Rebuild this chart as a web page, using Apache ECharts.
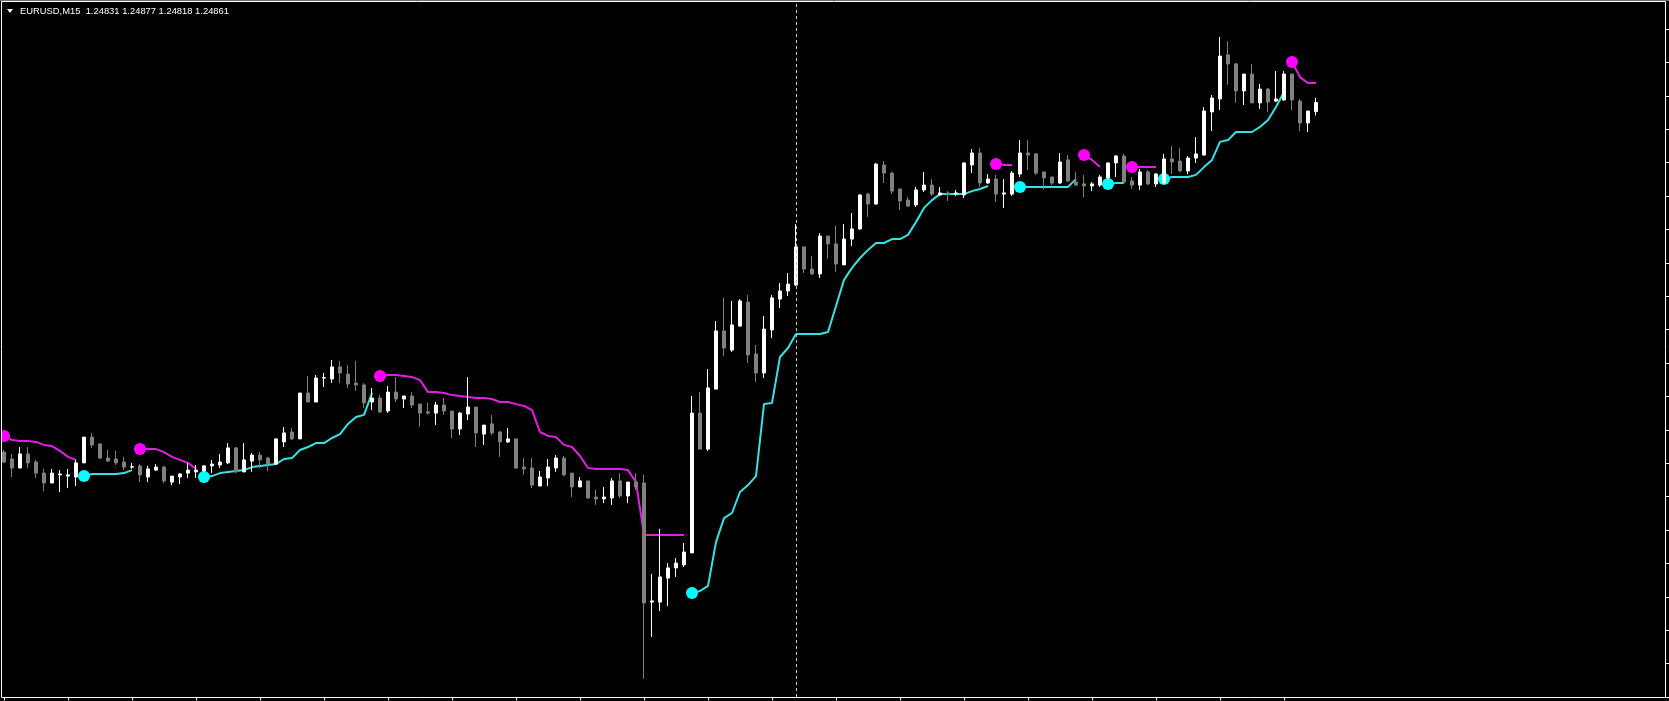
<!DOCTYPE html>
<html><head><meta charset="utf-8">
<script src="https://cdn.jsdelivr.net/npm/echarts@6/dist/echarts.min.js"></script>
<style>html,body{margin:0;padding:0;background:#000;overflow:hidden}#chart{width:1669px;height:701px;}</style>
</head><body><div id="chart"></div><script>
const symbolName = 'EURUSD,M15';
const slotCount = 208; // bars visible on screen incl. empty right shift
const categories = Array.from({length: slotCount}, (_, i) => String(i));

const barOpen = [1.23696,1.23673,1.23643,1.23690,1.23663,1.23626,1.23593,1.23620,1.23616,1.23613,
 1.23660,1.23746,1.23723,1.23676,1.23673,1.23663,1.23646,1.23650,1.23613,1.23636,
 1.23646,1.23596,1.23613,1.23626,1.23630,1.23633,1.23650,1.23653,1.23660,1.23710,
 1.23630,1.23666,1.23686,1.23676,1.23656,1.23730,1.23763,1.23740,1.23893,1.23863,
 1.23943,1.23940,1.23980,1.23956,1.23926,1.23920,1.23863,1.23876,1.23833,1.23896,
 1.23873,1.23883,1.23856,1.23830,1.23826,1.23853,1.23833,1.23773,1.23823,1.23846,
 1.23756,1.23790,1.23763,1.23730,1.23740,1.23646,1.23643,1.23583,1.23610,1.23643,
 1.23676,1.23626,1.23580,1.23600,1.23546,1.23540,1.23543,1.23600,1.23550,1.23596,
 1.23593,1.23196,1.23196,1.23276,1.23310,1.23320,1.23360,1.23826,1.23706,1.23906,
 1.24100,1.24036,1.24116,1.24196,1.24023,1.23960,1.24103,1.24206,1.24233,1.24253,
 1.24380,1.24306,1.24290,1.24416,1.24390,1.24320,1.24406,1.24440,1.24556,1.24523,
 1.24653,1.24626,1.24573,1.24536,1.24520,1.24570,1.24586,1.24553,1.24560,1.24556,
 1.24553,1.24653,1.24693,1.24593,1.24606,1.24556,1.24556,1.24623,1.24693,1.24690,
 1.24630,1.24613,1.24593,1.24670,1.24596,1.24590,1.24583,1.24586,1.24610,1.24660,
 1.24683,1.24600,1.24586,1.24630,1.24590,1.24593,1.24673,1.24666,1.24633,1.24676,
 1.24686,1.24830,1.24873,1.25020,1.24990,1.24900,1.24956,1.24860,1.24906,1.24866,
 1.24870,1.24956,1.24866,1.24793,1.24831];

const barClose = [1.23663,1.23643,1.23690,1.23660,1.23626,1.23593,1.23626,1.23623,1.23620,1.23660,
 1.23746,1.23720,1.23676,1.23666,1.23660,1.23646,1.23647,1.23620,1.23640,1.23646,
 1.23600,1.23616,1.23623,1.23636,1.23636,1.23650,1.23656,1.23663,1.23710,1.23630,
 1.23670,1.23686,1.23670,1.23656,1.23740,1.23760,1.23740,1.23893,1.23863,1.23943,
 1.23944,1.23980,1.23960,1.23923,1.23920,1.23860,1.23876,1.23830,1.23896,1.23873,
 1.23883,1.23853,1.23826,1.23826,1.23853,1.23833,1.23773,1.23826,1.23846,1.23760,
 1.23786,1.23760,1.23730,1.23740,1.23643,1.23640,1.23586,1.23613,1.23646,1.23676,
 1.23620,1.23580,1.23600,1.23543,1.23540,1.23546,1.23600,1.23550,1.23596,1.23580,
 1.23193,1.23200,1.23280,1.23310,1.23326,1.23363,1.23826,1.23706,1.23910,1.24100,
 1.24043,1.24120,1.24200,1.24020,1.23960,1.24106,1.24210,1.24233,1.24256,1.24380,
 1.24306,1.24290,1.24416,1.24390,1.24323,1.24406,1.24440,1.24553,1.24523,1.24656,
 1.24626,1.24566,1.24533,1.24516,1.24570,1.24586,1.24556,1.24560,1.24556,1.24560,
 1.24660,1.24693,1.24593,1.24606,1.24556,1.24560,1.24626,1.24693,1.24686,1.24626,
 1.24610,1.24593,1.24663,1.24600,1.24586,1.24583,1.24590,1.24613,1.24660,1.24683,
 1.24596,1.24586,1.24630,1.24590,1.24623,1.24673,1.24663,1.24633,1.24676,1.24690,
 1.24833,1.24876,1.25016,1.24990,1.24900,1.24956,1.24860,1.24906,1.24863,1.24873,
 1.24956,1.24870,1.24793,1.24833,1.24861];

const barHigh = [1.23703,1.23690,1.23713,1.23713,1.23670,1.23640,1.23640,1.23636,1.23640,1.23670,
 1.23746,1.23760,1.23726,1.23703,1.23700,1.23680,1.23660,1.23656,1.23650,1.23656,
 1.23650,1.23616,1.23626,1.23660,1.23653,1.23653,1.23670,1.23690,1.23726,1.23713,
 1.23726,1.23693,1.23696,1.23680,1.23740,1.23780,1.23776,1.23893,1.23950,1.23953,
 1.23960,1.24003,1.24000,1.23986,1.24000,1.23926,1.23910,1.23886,1.23916,1.23946,
 1.23883,1.23896,1.23856,1.23860,1.23863,1.23876,1.23833,1.23830,1.23946,1.23846,
 1.23786,1.23820,1.23766,1.23776,1.23740,1.23676,1.23676,1.23633,1.23673,1.23686,
 1.23683,1.23626,1.23613,1.23600,1.23570,1.23580,1.23610,1.23626,1.23596,1.23626,
 1.23620,1.23290,1.23440,1.23326,1.23343,1.23393,1.23883,1.23896,1.23973,1.24133,
 1.24210,1.24200,1.24206,1.24220,1.24053,1.24150,1.24220,1.24260,1.24293,1.24456,
 1.24380,1.24350,1.24426,1.24416,1.24450,1.24456,1.24493,1.24556,1.24560,1.24660,
 1.24666,1.24630,1.24573,1.24546,1.24580,1.24630,1.24606,1.24580,1.24566,1.24570,
 1.24660,1.24706,1.24710,1.24623,1.24620,1.24606,1.24633,1.24736,1.24736,1.24693,
 1.24630,1.24613,1.24693,1.24686,1.24630,1.24620,1.24596,1.24620,1.24660,1.24686,
 1.24690,1.24613,1.24640,1.24636,1.24626,1.24690,1.24716,1.24710,1.24683,1.24746,
 1.24846,1.24886,1.25080,1.25066,1.24993,1.24956,1.24990,1.24923,1.24910,1.24966,
 1.24966,1.24956,1.24873,1.24833,1.24877];

const barLow = [1.23660,1.23613,1.23643,1.23643,1.23610,1.23566,1.23593,1.23563,1.23576,1.23583,
 1.23660,1.23710,1.23673,1.23663,1.23653,1.23636,1.23640,1.23596,1.23596,1.23633,
 1.23593,1.23586,1.23590,1.23610,1.23610,1.23630,1.23626,1.23643,1.23656,1.23626,
 1.23630,1.23630,1.23643,1.23633,1.23656,1.23713,1.23736,1.23740,1.23863,1.23863,
 1.23913,1.23926,1.23926,1.23910,1.23900,1.23843,1.23836,1.23826,1.23826,1.23863,
 1.23843,1.23843,1.23780,1.23820,1.23786,1.23820,1.23743,1.23753,1.23803,1.23713,
 1.23720,1.23753,1.23680,1.23726,1.23640,1.23620,1.23576,1.23583,1.23583,1.23630,
 1.23616,1.23546,1.23580,1.23540,1.23520,1.23526,1.23520,1.23543,1.23526,1.23570,
 1.22940,1.23080,1.23166,1.23183,1.23280,1.23313,1.23360,1.23706,1.23700,1.23906,
 1.24016,1.24030,1.24116,1.23993,1.23930,1.23943,1.24076,1.24176,1.24216,1.24250,
 1.24293,1.24286,1.24276,1.24340,1.24296,1.24320,1.24383,1.24436,1.24480,1.24520,
 1.24593,1.24556,1.24503,1.24513,1.24513,1.24563,1.24550,1.24550,1.24533,1.24550,
 1.24543,1.24626,1.24580,1.24590,1.24530,1.24510,1.24550,1.24613,1.24636,1.24620,
 1.24573,1.24586,1.24590,1.24596,1.24583,1.24546,1.24566,1.24580,1.24606,1.24613,
 1.24593,1.24573,1.24570,1.24586,1.24580,1.24590,1.24623,1.24630,1.24623,1.24660,
 1.24686,1.24766,1.24836,1.24920,1.24860,1.24853,1.24860,1.24840,1.24830,1.24863,
 1.24866,1.24836,1.24766,1.24763,1.24818];

// trailing-stop indicator: [start bar, values...]; each segment starts with a signal dot
const trailDownSegments = [
 [0, [1.23750,1.23736,1.23733,1.23733,1.23730,1.23720,1.23716,1.23700,1.23680,1.23670]],
 [17, [1.23706,1.23706,1.23706,1.23696,1.23680,1.23670,1.23660,1.23640]],
 [47, [1.23950,1.23953,1.23953,1.23950,1.23946,1.23936,1.23896,1.23896,1.23893,1.23886,
       1.23883,1.23880,1.23876,1.23876,1.23873,1.23863,1.23863,1.23856,1.23850,1.23836,
       1.23763,1.23750,1.23746,1.23720,1.23713,1.23683,1.23643,1.23640,1.23640,1.23640,
       1.23640,1.23636,1.23596,1.23420,1.23420,1.23420,1.23420,1.23420,1.23420]],
 [124, [1.24656,1.24653,1.24653]],
 [135, [1.24686,1.24670,1.24646]],
 [141, [1.24646,1.24646,1.24646,1.24646]],
 [161, [1.24996,1.24946,1.24926,1.24926]]
];
const trailUpSegments = [
 [10, [1.23616,1.23623,1.23623,1.23623,1.23623,1.23626,1.23636]],
 [25, [1.23613,1.23616,1.23626,1.23630,1.23633,1.23636,1.23646,1.23650,1.23653,1.23656,
       1.23673,1.23676,1.23703,1.23713,1.23726,1.23726,1.23743,1.23756,1.23790,1.23813,
       1.23820,1.23893]],
 [86, [1.23226,1.23233,1.23250,1.23396,1.23476,1.23493,1.23563,1.23586,1.23616,1.23856,
       1.23860,1.24013,1.24043,1.24090,1.24090,1.24090,1.24090,1.24096,1.24183,1.24270,
       1.24310,1.24343,1.24370,1.24393,1.24393,1.24406,1.24406,1.24420,1.24463,1.24510,
       1.24536,1.24556,1.24556,1.24556,1.24556,1.24566,1.24573,1.24583]],
 [127, [1.24580,1.24580,1.24580,1.24580,1.24580,1.24580,1.24580,1.24606]],
 [138, [1.24590,1.24593,1.24593]],
 [145, [1.24606,1.24613,1.24613,1.24613,1.24620,1.24646,1.24670,1.24730,1.24736,1.24763,
        1.24763,1.24763,1.24780,1.24803,1.24846,1.24896]]
];
const cursorBar = 99;          // dashed vertical cursor line
const priceMin = 1.228797, priceMax = 1.251963;
const timeTickEvery = 8;
const priceTickCount = 20;

// ---------- build ----------
const nBars = barOpen.length;
const candleData = barOpen.map((o, i) => [o, barClose[i], barLow[i], barHigh[i]]);
function segLine(segs) {
  const arr = new Array(nBars).fill(null);
  segs.forEach(([s, vals]) => vals.forEach((v, k) => { arr[s + k] = v; }));
  return arr;
}
function segDots(segs) { return segs.map(([s, vals]) => [categories[s], vals[0]]); }

const last = nBars - 1;
const headerText = symbolName + '  ' + barOpen[last].toFixed(5) + ' ' + barHigh[last].toFixed(5) + ' ' +
  barLow[last].toFixed(5) + ' ' + barClose[last].toFixed(5);

const tickStyle = {show: true, length: 3, lineStyle: {color: '#ffffff', width: 1}};
const chart = echarts.init(document.getElementById('chart'), null, {renderer: 'canvas'});
chart.setOption({
  backgroundColor: '#000000',
  animation: false,
  grid: [
    {left: 0, right: 5, top: 2, bottom: 4},
    {left: 4, width: 8 * timeTickEvery * 20, top: 2, bottom: 3.5},
    {left: 0, right: 3, top: 29, bottom: 4}
  ],
  xAxis: [
    {type: 'category', gridIndex: 0, data: categories, boundaryGap: true, show: false},
    {type: 'value', gridIndex: 1, position: 'bottom', min: 0, max: timeTickEvery * 20, interval: timeTickEvery,
     axisLine: {show: false, onZero: false}, axisLabel: {show: false}, splitLine: {show: false},
     axisTick: tickStyle},
    {type: 'value', gridIndex: 2, show: false, min: 0, max: 1}
  ],
  yAxis: [
    {type: 'value', gridIndex: 0, min: priceMin, max: priceMax, show: false},
    {type: 'value', gridIndex: 1, show: false, min: 0, max: 1},
    {type: 'value', gridIndex: 2, position: 'right', min: 0, max: priceTickCount, interval: 1,
     axisLine: {show: false, onZero: false}, axisLabel: {show: false}, splitLine: {show: false},
     axisTick: tickStyle}
  ],
  series: [
    {type: 'line', name: 'trailDown', data: segLine(trailDownSegments), showSymbol: false, symbol: 'none',
     connectNulls: false, z: 2, lineStyle: {color: '#e31ee3', width: 2}, silent: true},
    {type: 'line', name: 'trailUp', data: segLine(trailUpSegments), showSymbol: false, symbol: 'none',
     connectNulls: false, z: 2, lineStyle: {color: '#36e3e3', width: 2}, silent: true},
    {type: 'scatter', name: 'sellSignal', data: segDots(trailDownSegments), symbolSize: 12, z: 3,
     itemStyle: {color: '#ff00ff', opacity: 1}, silent: true},
    {type: 'scatter', name: 'buySignal', data: segDots(trailUpSegments), symbolSize: 12, z: 3,
     itemStyle: {color: '#00ffff', opacity: 1}, silent: true},
    {type: 'candlestick', name: symbolName, data: candleData, barWidth: 4, z: 4, silent: true,
     itemStyle: {color: '#ffffff', color0: '#808080', borderColor: '#ffffff', borderColor0: '#808080', borderWidth: 1},
     markLine: {silent: true, symbol: ['none', 'none'], label: {show: false},
       lineStyle: {color: '#c8c8c8', type: [3, 3], width: 1},
       data: [{xAxis: categories[cursorBar]}]}}
  ],
  graphic: [
    {type: 'rect', z: 99, shape: {x: 0, y: 0, width: 1.5, height: 701}, style: {fill: '#000000'}},
    {type: 'line', z: 100, shape: {x1: 0, y1: 0.5, x2: 1669, y2: 0.5}, style: {stroke: '#6e6e6e', lineWidth: 1}},
    {type: 'rect', z: 100, shape: {x: 1.5, y: 1.5, width: 1664, height: 696}, style: {fill: 'none', stroke: '#ffffff', lineWidth: 1}},
    {type: 'polygon', z: 100, shape: {points: [[7, 9], [13, 9], [10, 13]]}, style: {fill: '#ffffff'}},
    {type: 'text', z: 100, x: 20, y: 11, style: {text: headerText, fill: '#ffffff', font: '9.4px "Liberation Sans", Arial, sans-serif', textVerticalAlign: 'middle', verticalAlign: 'middle'}}
  ]
});
</script></body></html>
